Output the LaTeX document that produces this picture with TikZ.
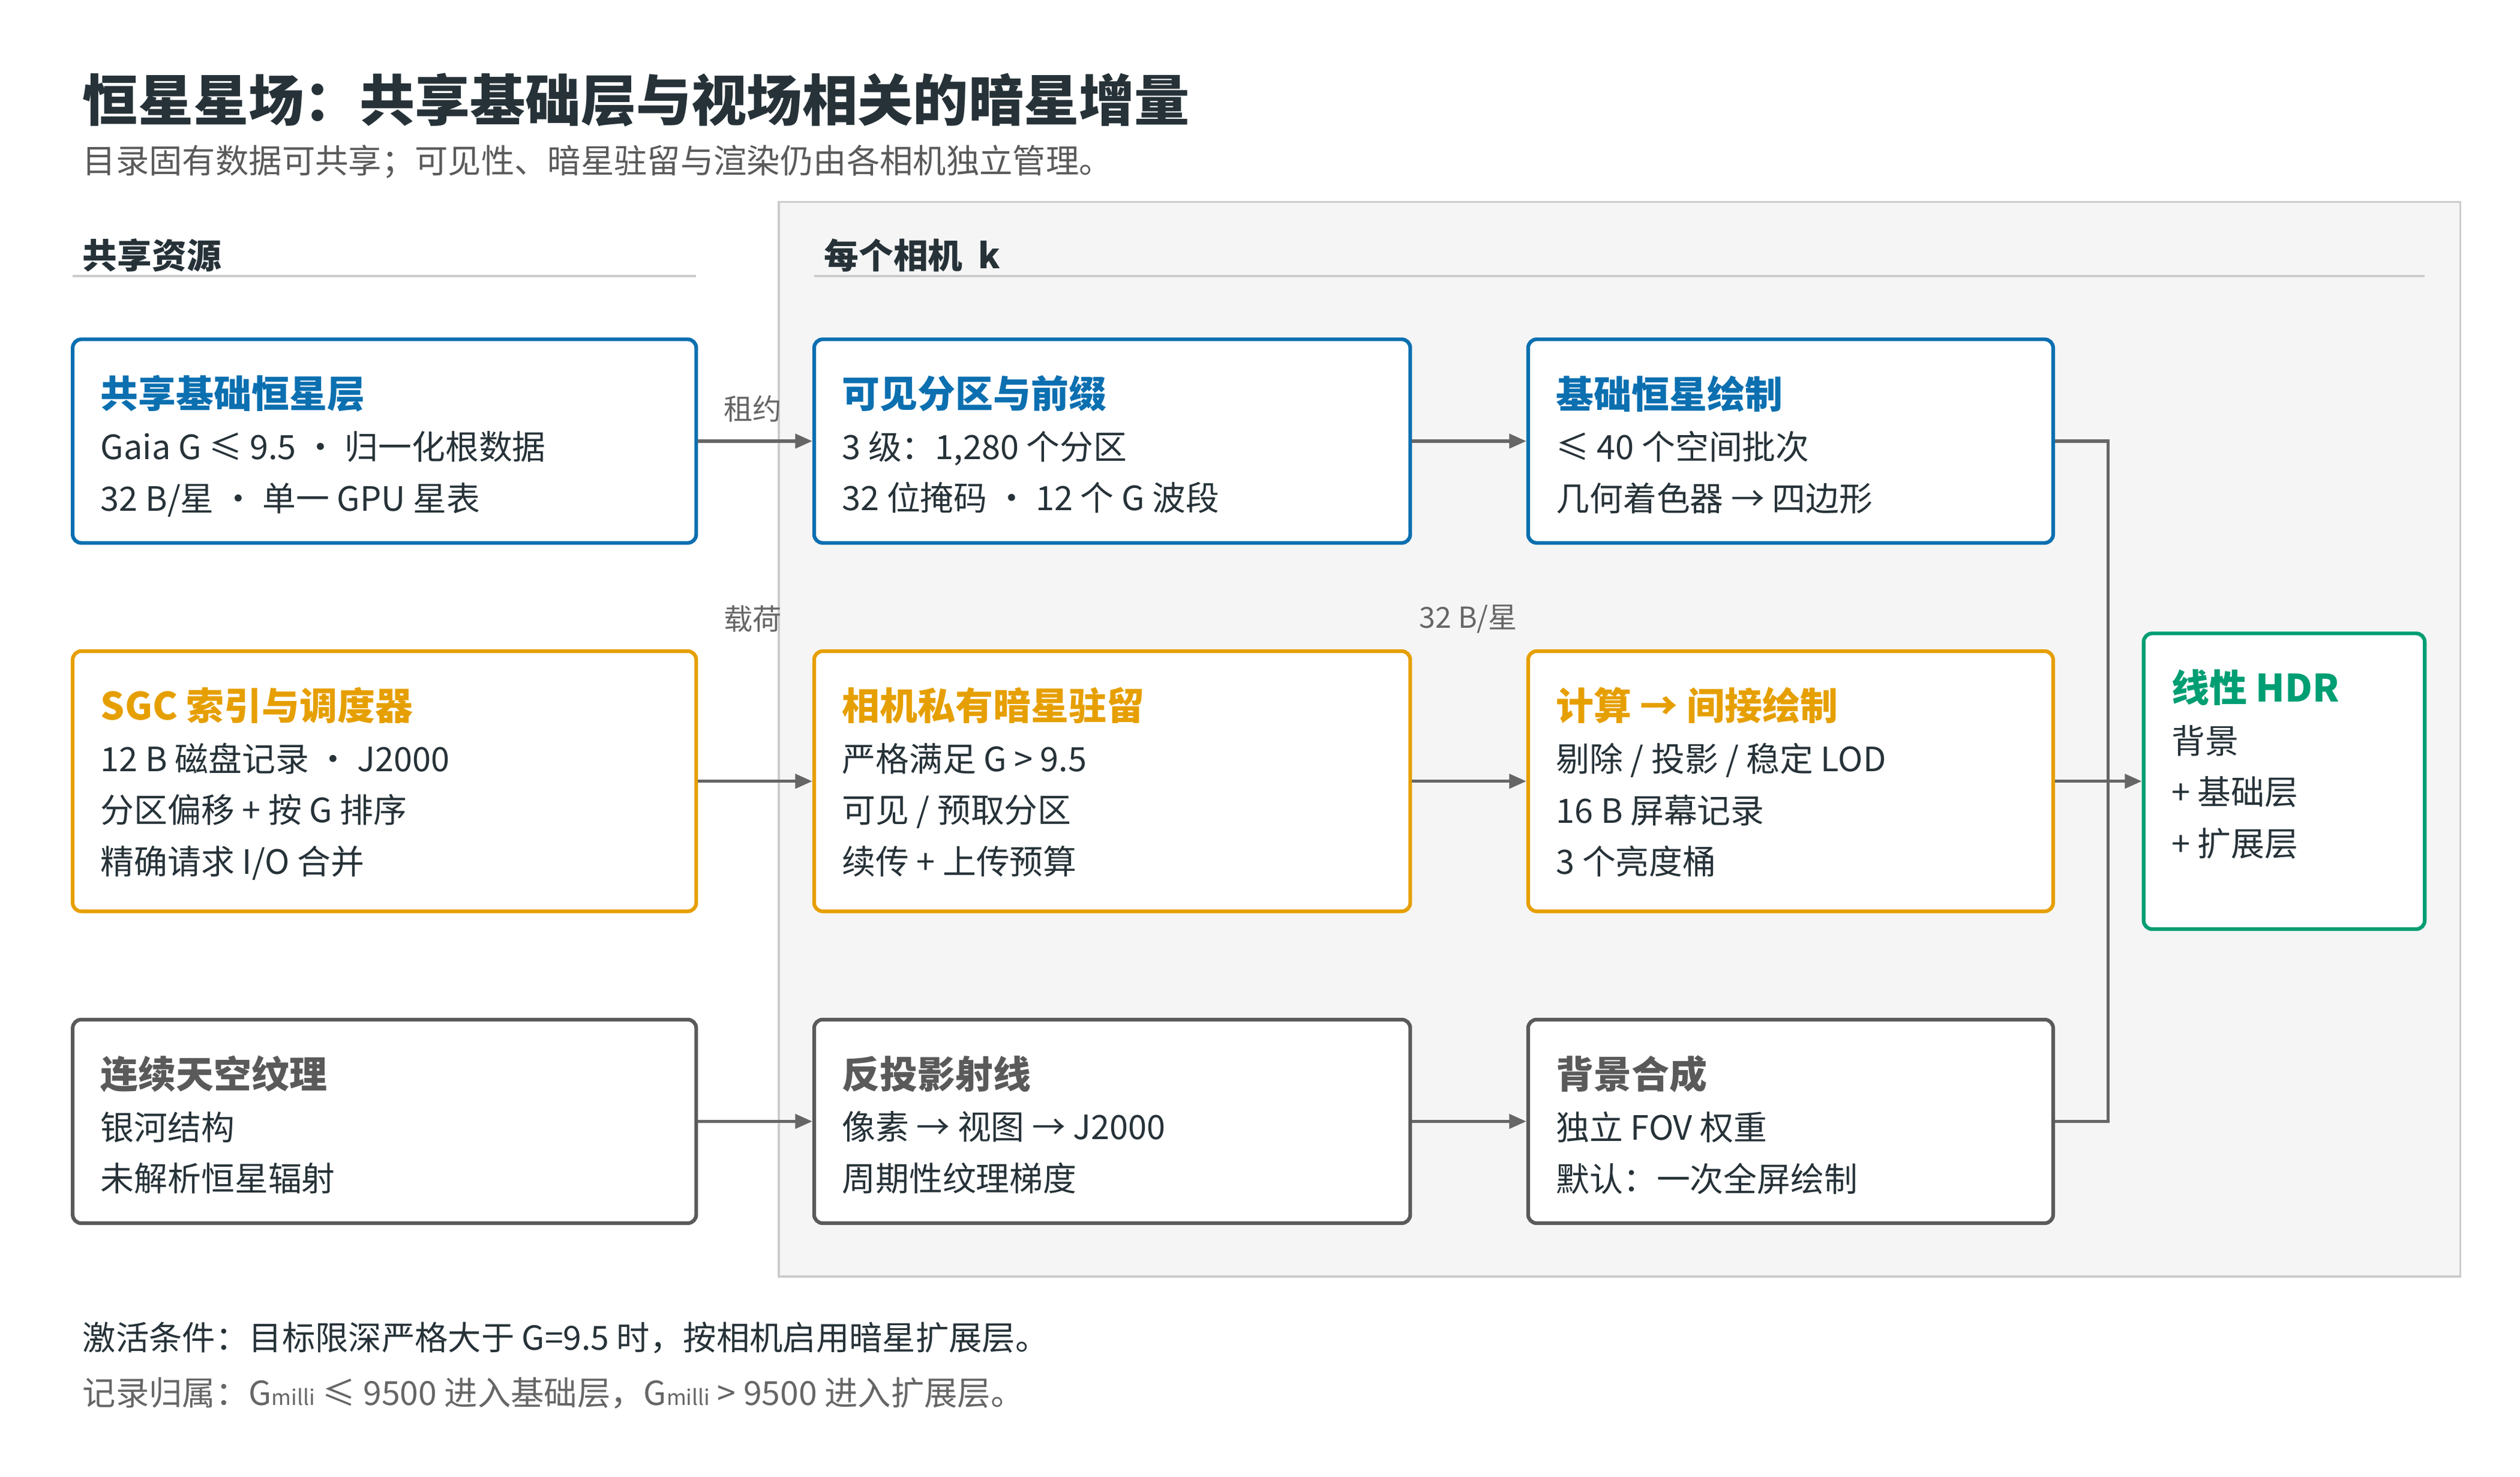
\documentclass[tikz,border=0pt]{standalone}
\usepackage{fontspec}
\setmainfont{Noto Sans CJK SC}
\usetikzlibrary{arrows.meta}
\definecolor{cblue}{HTML}{0B6FB0}
\definecolor{corange}{HTML}{E69F00}
\definecolor{cgreen}{HTML}{009E73}
\definecolor{cgrey}{HTML}{5A5A5A}
\definecolor{ink}{HTML}{263238}
\definecolor{soft}{HTML}{666666}
% card: name, x1, y1, x2, y2, colour, title, lines
\newcommand\card[8]{%
  \node[box, draw=#6, minimum width={(#4-#2)*0.2mm}, minimum height={(#5-#3)*0.2mm}] (#1) at ({(#2+#4)/2},{(#3+#5)/2}) {};
  \node[boxtext] (#1-t) at (#2+17,#3+22) {{\fontsize{13.3}{18.1}\selectfont\bfseries\color{#6}#7}\\#8};
}
\begin{document}
\begin{tikzpicture}[x=0.2mm, y=-0.2mm, font=\fontsize{11.8}{18.1}\selectfont,
    box/.style={rectangle, rounded corners=3pt, line width=1.3pt, fill=white, inner sep=0pt},
    boxtext/.style={anchor=north west, inner sep=0pt, align=left, text=ink},
    link/.style={-{Triangle[length=6pt,width=5pt]}, line width=1.1pt, draw=soft},
    bus/.style={line width=1.1pt, draw=soft},
    tag/.style={font=\fontsize{10.2}{12}\selectfont, text=soft},
    head/.style={anchor=west, font=\fontsize{12.2}{14}\selectfont\bfseries, text=ink}]

  \useasboundingbox (0,0) rectangle (1560,913.8);

  % panel
  \draw[fill=black!4, draw=black!20, line width=0.8pt] (482,125) rectangle (1523,790);

  \node[anchor=west, text=ink, font=\fontsize{19.5}{22}\selectfont\bfseries] (title) at (45,62) {恒星星场：共享基础层与视场相关的暗星增量};
  \node[anchor=west, text=cgrey, font=\fontsize{11.7}{14}\selectfont] (sub) at (45,100) {目录固有数据可共享；可见性、暗星驻留与渲染仍由各相机独立管理。};

  \node[head] (h1) at (45,158) {共享资源};
  \node[head] (h2) at (504,158) {每个相机\ \ k};
  \draw[black!20, line width=0.8pt] (45,171) -- (431,171);
  \draw[black!20, line width=0.8pt] (504,171) -- (1501,171);

  \card{shared}{45}{210}{431}{336}{cblue}{共享基础恒星层}{Gaia G ≤ 9.5 · 归一化根数据\\32 B/星 · 单一 GPU 星表}
  \card{sgc}{45}{403}{431}{564}{corange}{SGC 索引与调度器}{12 B 磁盘记录 · J2000\\分区偏移 + 按 G 排序\\精确请求 I/O 合并}
  \card{sky}{45}{631}{431}{757}{cgrey}{连续天空纹理}{银河结构\\未解析恒星辐射}

  \card{vis}{504}{210}{873}{336}{cblue}{可见分区与前缀}{3 级：1,280 个分区\\32 位掩码 · 12 个 G 波段}
  \card{res}{504}{403}{873}{564}{corange}{相机私有暗星驻留}{严格满足 G > 9.5\\可见 / 预取分区\\续传 + 上传预算}
  \card{ray}{504}{631}{873}{757}{cgrey}{反投影射线}{像素 → 视图 → J2000\\周期性纹理梯度}

  \card{base}{946}{210}{1271}{336}{cblue}{基础恒星绘制}{≤ 40 个空间批次\\几何着色器 → 四边形}
  \card{calc}{946}{403}{1271}{564}{corange}{计算 → 间接绘制}{剔除 / 投影 / 稳定 LOD\\16 B 屏幕记录\\3 个亮度桶}
  \card{comp}{946}{631}{1271}{757}{cgrey}{背景合成}{独立 FOV 权重\\默认：一次全屏绘制}

  \card{hdr}{1327}{392}{1501}{575}{cgreen}{线性 HDR}{背景\\+ 基础层\\+ 扩展层}

  \draw[link] (shared.east) -- (vis.west);
  \draw[link] (sgc.east) -- (res.west);
  \draw[link] (sky.east) -- (ray.west);
  \draw[link] (vis.east) -- (base.west);
  \draw[link] (res.east) -- (calc.west);
  \draw[link] (ray.east) -- (comp.west);

  \coordinate (join) at (1305,483);
  \draw[bus] (base.east) -| (join);
  \draw[bus] (comp.east) -| (join);
  \draw[link] (calc.east) -- (hdr.west);

  \node[tag] (lease) at (466,253) {租约};
  \node[tag] (load) at (466,383) {载荷};
  \node[tag] (size) at (909,383) {32 B/星};

  \node[anchor=west, text=ink, font=\fontsize{11.7}{14}\selectfont] (note1) at (45,828) {激活条件：目标限深严格大于 G=9.5 时，按相机启用暗星扩展层。};
  \node[anchor=west, text=soft, font=\fontsize{11.7}{14}\selectfont] (note2) at (45,862) {记录归属：G{\fontsize{7.5}{8}\selectfont milli} ≤ 9500 进入基础层，G{\fontsize{7.5}{8}\selectfont milli} > 9500 进入扩展层。};
\end{tikzpicture}
\end{document}
